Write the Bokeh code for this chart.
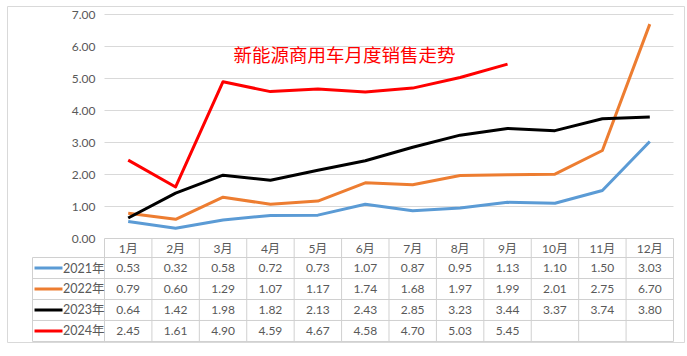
from bokeh.plotting import figure
from bokeh.models import Range1d
from bokeh.core.properties import value
from bokeh.embed import file_html
from bokeh.resources import INLINE

# ---- data ----
months = ["1月", "2月", "3月", "4月", "5月", "6月", "7月", "8月", "9月", "10月", "11月", "12月"]
series_names = ["2021年", "2022年", "2023年", "2024年"]
s2021 = [0.53, 0.32, 0.58, 0.72, 0.73, 1.07, 0.87, 0.95, 1.13, 1.10, 1.50, 3.03]
s2022 = [0.79, 0.60, 1.29, 1.07, 1.17, 1.74, 1.68, 1.97, 1.99, 2.01, 2.75, 6.70]
s2023 = [0.64, 1.42, 1.98, 1.82, 2.13, 2.43, 2.85, 3.23, 3.44, 3.37, 3.74, 3.80]
s2024 = [2.45, 1.61, 4.90, 4.59, 4.67, 4.58, 4.70, 5.03, 5.45]
y_ticks = [0, 1, 2, 3, 4, 5, 6, 7]
title = "新能源商用车月度销售走势"

series = [s2021, s2022, s2023, s2024]
colors = ["#5b9bd5", "#ed7d31", "#000000", "#ff0000"]

NUM_FONT = value("Lato, Noto Sans CJK SC")
TXT = "#595959"
GRID = "#d9d9d9"

p = figure(width=687, height=356, output_backend="svg", toolbar_location=None,
           x_range=Range1d(-2.0457, 12.232), y_range=Range1d(-3.25, 7.25),
           x_axis_type=None, y_axis_type=None,
           min_border_left=7, min_border_right=3, min_border_top=6, min_border_bottom=14,
           outline_line_color=GRID, outline_line_width=1,
           background_fill_color="white", border_fill_color="white")
p.grid.visible = False

n = len(months)
# gridlines
gy = [t for t in y_ticks if t > 0]
p.segment(x0=[0] * len(gy), x1=[n] * len(gy), y0=gy, y1=gy, line_color=GRID, line_width=1)

# y tick labels
p.text(x=[-0.19] * len(y_ticks), y=y_ticks, text=["%.2f" % t for t in y_ticks],
       text_align="right", text_baseline="middle", text_font=NUM_FONT,
       text_font_size="12px", text_color=TXT)

# table geometry
row_h = 0.656
head_b = -0.594
row_edges = [head_b - row_h * i for i in range(len(series) + 1)]
leg_left = -1.518
tcol = "#d0d0d0"
# horizontal lines
p.segment(x0=[0], x1=[n], y0=[0], y1=[0], line_color=tcol, line_width=1)
p.segment(x0=[leg_left] * len(row_edges), x1=[n] * len(row_edges), y0=row_edges, y1=row_edges,
          line_color=tcol, line_width=1)
# vertical lines
vx = list(range(n + 1))
p.segment(x0=vx, x1=vx, y0=[0] * len(vx), y1=[row_edges[-1]] * len(vx), line_color=tcol, line_width=1)
p.segment(x0=[leg_left], x1=[leg_left], y0=[head_b], y1=[row_edges[-1]], line_color=tcol, line_width=1)

xc = [i + 0.5 for i in range(n)]
# header months
p.text(x=xc, y=[head_b / 2] * n, text=months, text_align="center", text_baseline="middle",
       text_font=NUM_FONT, text_font_size="12px", text_color=TXT)

for k, (name, vals, c) in enumerate(zip(series_names, series, colors)):
    yc = (row_edges[k] + row_edges[k + 1]) / 2
    p.text(x=xc[:len(vals)], y=[yc] * len(vals), text=["%.2f" % v for v in vals],
           text_align="center", text_baseline="middle", text_font=NUM_FONT,
           text_font_size="12px", text_color=TXT)
    # legend key
    p.segment(x0=[-1.476], x1=[-0.886], y0=[yc], y1=[yc], line_color=c, line_width=3)
    p.text(x=[-0.875], y=[yc], text=[name], text_align="left", text_baseline="middle",
           text_font=NUM_FONT, text_font_size="12.5px", text_color=TXT)
    # data line
    p.line(x=xc[:len(vals)], y=vals, line_color=c, line_width=3, line_join="round")

# title
p.text(x=[2.72], y=[5.78], text=[title], text_align="left", text_baseline="middle",
       text_font=value("Noto Sans CJK SC"), text_font_size="18.5px", text_color="#ff0000")

open("out.html", "w").write(file_html(p, INLINE))
